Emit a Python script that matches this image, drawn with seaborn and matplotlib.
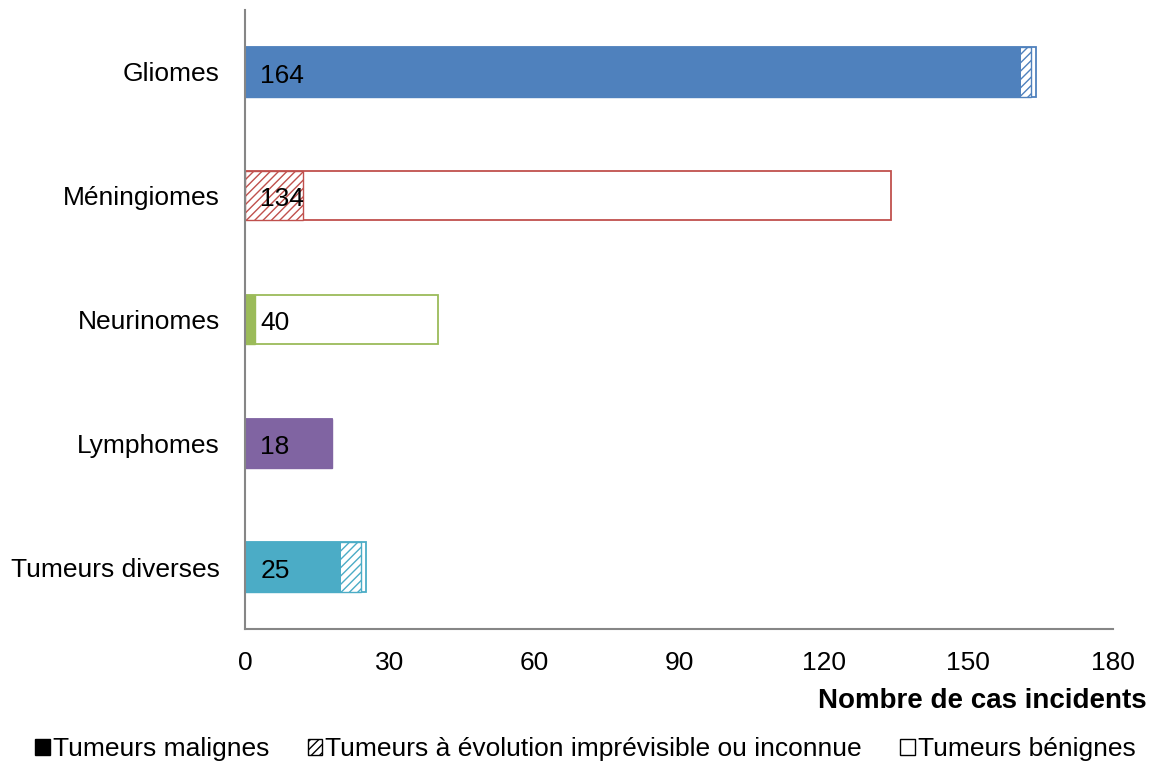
import seaborn as sns
import matplotlib.pyplot as plt
from matplotlib.patches import Patch

categories = ["Gliomes", "Méningiomes", "Neurinomes", "Lymphomes", "Tumeurs diverses"]
malignes = [161, 0, 2, 18, 20]
imprevisibles = [2, 12, 0, 0, 4]
benignes = [1, 122, 38, 0, 1]
colors = ["#4F81BD", "#C0504D", "#9BBB59", "#8064A2", "#4BACC6"]
xticks = [0, 30, 60, 90, 120, 150, 180]

totals = [m + i + b for m, i, b in zip(malignes, imprevisibles, benignes)]
mal_unk = [m + i for m, i in zip(malignes, imprevisibles)]

sns.set_style("white")
plt.rcParams['font.family'] = ['Liberation Sans', 'DejaVu Sans']
plt.rcParams['hatch.linewidth'] = 1.0
plt.rcParams['text.color'] = 'black'
plt.rcParams['xtick.color'] = 'black'
plt.rcParams['ytick.color'] = 'black'

fig = plt.figure(figsize=(11.55, 7.64), dpi=100)
ax = fig.add_axes([0.2121, 0.1767, 0.7515, 0.8103])

# benign part: outline of the whole bar
sns.barplot(x=totals, y=categories, hue=categories, palette=colors, fill=False,
            saturation=1, width=0.4, linewidth=1.3, errorbar=None, legend=False, ax=ax)

# uncertain part: hatched
n = len(ax.patches)
sns.barplot(x=mal_unk, y=categories, hue=categories, palette=colors, fill=False,
            saturation=1, width=0.4, linewidth=1.0, errorbar=None, legend=False, ax=ax)
for p in ax.patches[n:]:
    p.set_hatch("////")
    p.set_facecolor("white")

# malignant part: solid
sns.barplot(x=malignes, y=categories, hue=categories, palette=colors, saturation=1,
            width=0.4, linewidth=0, errorbar=None, legend=False, ax=ax)

for i, t in enumerate(totals):
    ax.text(3.2, i + 0.03, str(t), ha="left", va="center", fontsize=19, color="black")

ax.set_xlim(0, 180)
ax.set_xticks(xticks)
ax.set_xlabel("")
ax.set_ylabel("")
ax.tick_params(axis="both", length=0, labelsize=19)
ax.tick_params(axis="y", pad=18)
ax.tick_params(axis="x", pad=16)
for s in ["top", "right"]:
    ax.spines[s].set_visible(False)
for s in ["left", "bottom"]:
    ax.spines[s].set_color("#868686")
    ax.spines[s].set_linewidth(1.5)

fig.text(0.993, 0.083, "Nombre de cas incidents", ha="right", va="center",
         fontsize=20, fontweight="bold")

handles = [Patch(facecolor="black", edgecolor="black"),
           Patch(facecolor="white", edgecolor="black", hatch="////"),
           Patch(facecolor="white", edgecolor="black")]
labels = ["Tumeurs malignes", "Tumeurs à évolution imprévisible ou inconnue", "Tumeurs bénignes"]
fig.legend(handles, labels, loc="center", bbox_to_anchor=(0.507, 0.019), ncol=3,
           frameon=False, fontsize=19, handlelength=0.55, handleheight=0.55,
           handletextpad=0.12, columnspacing=1.45)

fig.savefig("out.png", dpi=100)
